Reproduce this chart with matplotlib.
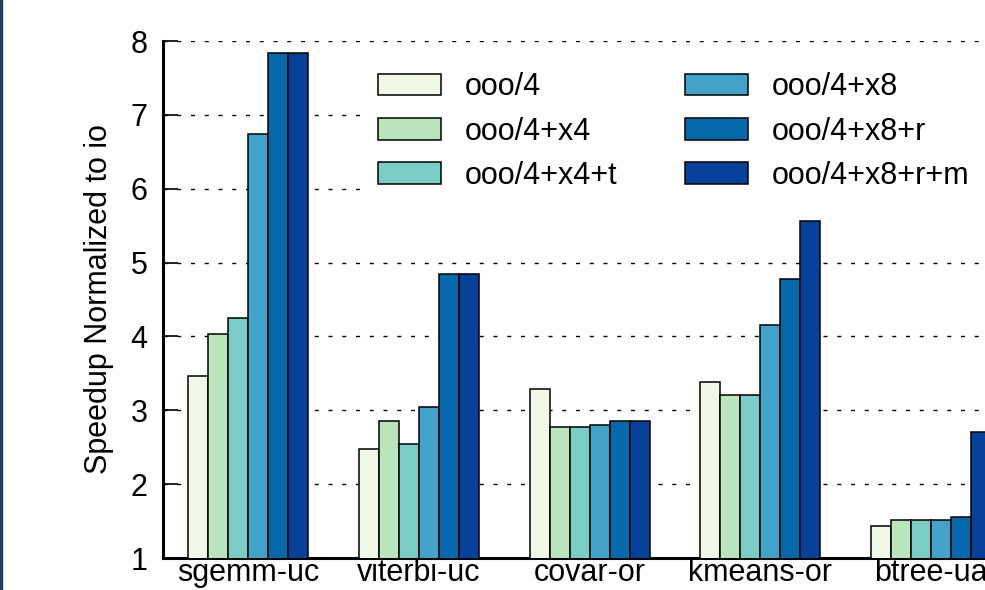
import matplotlib.pyplot as plt
import matplotlib.patches as mpatches
import numpy as np

plt.rcParams['font.family'] = ['Liberation Sans', 'DejaVu Sans']

benchmarks = ['sgemm-uc', 'viterbi-uc', 'covar-or', 'kmeans-or', 'btree-ua']
configs = ['ooo/4', 'ooo/4+x4', 'ooo/4+x4+t', 'ooo/4+x8', 'ooo/4+x8+r', 'ooo/4+x8+r+m']
colors = ['#f0f9e8', '#bae4bc', '#7bccc4', '#43a2ca', '#0868ac', '#08419a']

speedup = {
    'ooo/4':        [3.46, 2.48, 3.29, 3.38, 1.43],
    'ooo/4+x4':     [4.03, 2.85, 2.78, 3.21, 1.51],
    'ooo/4+x4+t':   [4.25, 2.54, 2.77, 3.21, 1.51],
    'ooo/4+x8':     [6.74, 3.05, 2.80, 4.15, 1.52],
    'ooo/4+x8+r':   [7.84, 4.85, 2.86, 4.78, 1.56],
    'ooo/4+x8+r+m': [7.84, 4.85, 2.86, 5.56, 2.70],
}

fig = plt.figure(figsize=(9.85, 5.9), dpi=100)
ax = fig.add_axes([163/985, 32/590, 1 - 163/985, 517/590])

x = np.arange(len(benchmarks))
w = 0.117
for i, c in enumerate(configs):
    ax.bar(x + (i - 2.5) * w, speedup[c], w, bottom=0, color=colors[i],
           edgecolor='black', linewidth=1.1, label=c, zorder=3)

ax.set_ylim(1, 8)
ax.set_xlim(-0.5, (985 - 247) / 171)
ax.set_yticks(range(1, 9))
ax.set_xticks(x)
ax.set_xticklabels(benchmarks)
ax.tick_params(axis='y', direction='in', length=11, width=1.2, labelsize=22, pad=11)
ax.tick_params(axis='x', length=0, labelsize=22, pad=0)
ax.set_ylabel('Speedup Normalized to io', fontsize=22, labelpad=12)

for y in range(2, 9):
    ax.axhline(y, color='black', linewidth=1.0, linestyle=(0, (2.9, 7)), zorder=1)

for s in ['top', 'right']:
    ax.spines[s].set_visible(False)
ax.spines['left'].set_linewidth(2.2)
ax.spines['bottom'].set_linewidth(2.2)

leg = ax.legend(ncol=2, loc='upper left', bbox_to_anchor=(369/985, 1 - 63/590),
                bbox_transform=fig.transFigure, borderaxespad=0,
                fontsize=22, frameon=True, framealpha=1, edgecolor='none',
                fancybox=False, handlelength=2.05, handleheight=0.72,
                labelspacing=0.47, columnspacing=2.2, handletextpad=0.8,
                borderpad=0.3)
leg.set_zorder(5)

fig.patches.append(mpatches.Rectangle((0, 0), 2/985, 1, transform=fig.transFigure,
                                      color='#1d3d63', zorder=10))

fig.savefig('out.png', dpi=100)
